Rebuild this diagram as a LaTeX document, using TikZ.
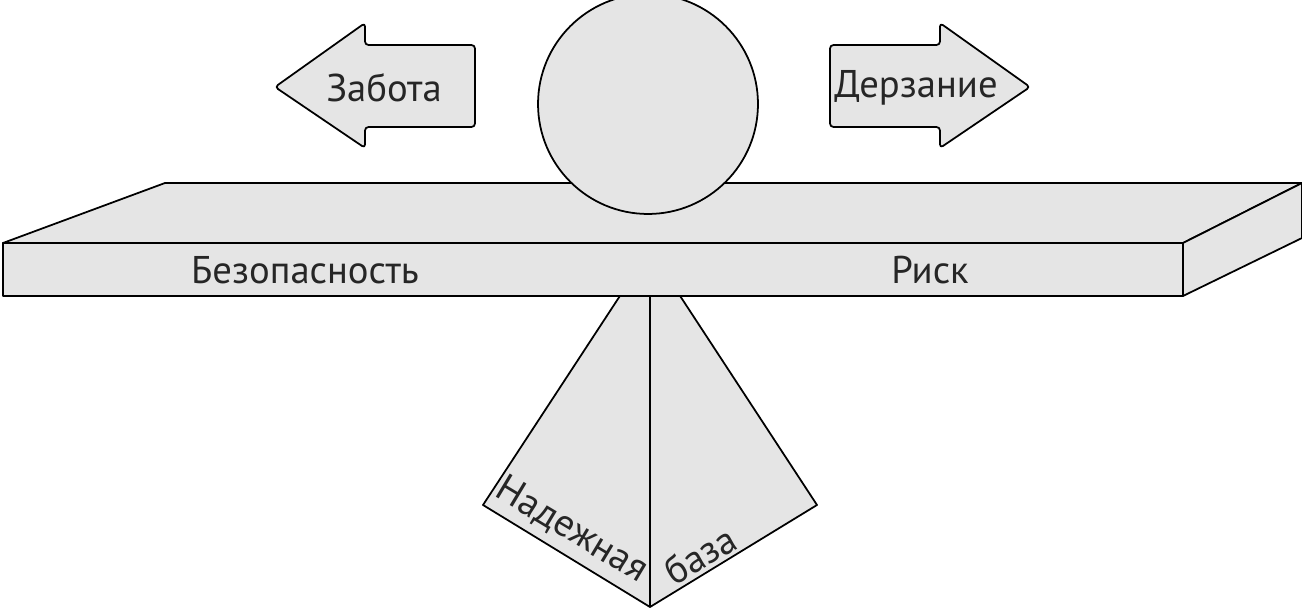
\documentclass[tikz,border=0pt]{standalone}
\usepackage{fontspec}
\setmainfont{PT Sans}
\begin{document}
\begin{tikzpicture}[
    x=0.02cm, y=-0.02cm,
    solid/.style={draw=black, fill=black!10, line width=1pt, line join=round},
    caption/.style={font=\fontsize{22}{26}\selectfont, text=black!85}
]
\useasboundingbox (0,0) rectangle (1302,611);

% Pyramid
\coordinate (apex) at (650,250);
\coordinate (baseL) at (483,505);
\coordinate (baseF) at (650,607);
\coordinate (baseR) at (817,505);
\draw[solid] (apex) -- (baseL) -- (baseF) -- (baseR) -- cycle;
\draw[line width=1pt] (apex) -- (baseF);

% Board
\draw[solid] (3,243) -- (165,183) -- (1302,183) -- (1183,243) -- cycle;
\draw[solid] (1183,243) -- (1302,183) -- (1302,238) -- (1183,296) -- cycle;
\draw[solid] (3,243) rectangle (1183,296);

% Ball
\node[solid, circle, minimum size=4.4cm, inner sep=0pt] (ball) at (648,104) {};

% Arrows
\draw[solid, rounded corners=2pt] (275,87) -- (365,23) -- (365,45) -- (475,45) -- (475,127) -- (365,127) -- (365,148) -- cycle;
\draw[solid, rounded corners=2pt] (1030,87) -- (940,23) -- (940,45) -- (830,45) -- (830,127) -- (940,127) -- (940,148) -- cycle;

% Labels
\node[caption] (care) at (384,88) {Забота};
\node[caption] (dare) at (916,88) {Дерзание};
\node[caption] (safe) at (305,270) {Безопасность};
\node[caption] (risk) at (930,270) {Риск};
\node[caption, rotate=-31] (reliable) at (572,530) {Надежная};
\node[caption, rotate=31] (base) at (700,555) {база};
\end{tikzpicture}
\end{document}
